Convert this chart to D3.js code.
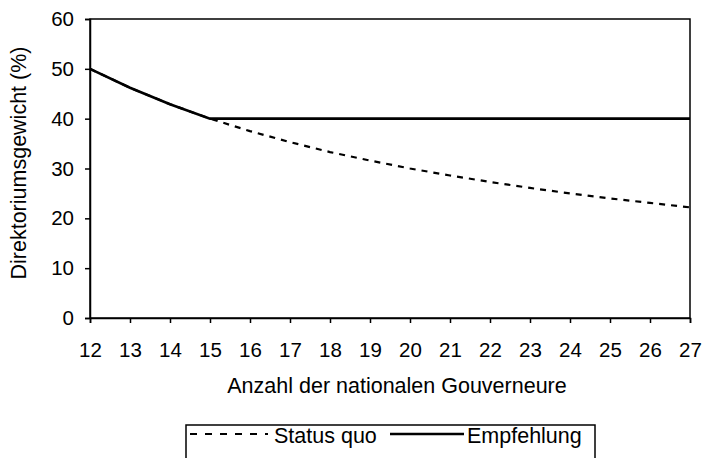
<!DOCTYPE html>
<html><head><meta charset="utf-8">
<script src="https://cdn.jsdelivr.net/npm/d3@7"></script>
<style>body{margin:0;background:#fff}svg{display:block}</style>
</head><body>
<svg id="c" width="702" height="458"></svg>
<script>
const governors = [12,13,14,15,16,17,18,19,20,21,22,23,24,25,26,27];
const statusQuo = [50,46.2,42.9,40,37.5,35.3,33.3,31.6,30,28.6,27.3,26.1,25,24,23.1,22.2];
const empfehlung = [50,46.2,42.9,40,40,40,40,40,40,40,40,40,40,40,40,40];
const yTicks = [0,10,20,30,40,50,60];
const seriesNames = ["Status quo","Empfehlung"];

const svg = d3.select("#c");
const font = "Arial, 'Liberation Sans', sans-serif";
const m = {l:90, r:691, t:19, b:318};
const x = d3.scaleLinear().domain([12,27]).range([m.l, m.r-1]);
const y = d3.scaleLinear().domain([0,60]).range([m.b, m.t]);

// frame
svg.append("rect").attr("x",m.l).attr("y",m.t).attr("width",m.r-1-m.l).attr("height",m.b-m.t)
  .attr("fill","none").attr("stroke","#000").attr("stroke-width",1.5);

const xa = svg.append("g").attr("transform",`translate(0,${m.b})`)
  .call(d3.axisBottom(x).tickValues(governors).tickFormat(d3.format("d")).tickSize(5).tickPadding(19));
const ya = svg.append("g").attr("transform",`translate(${m.l},0)`)
  .call(d3.axisLeft(y).tickValues(yTicks).tickSize(5).tickPadding(11));
[xa,ya].forEach(a=>{
  a.select(".domain").attr("stroke","#000").attr("stroke-width",1.5);
  a.selectAll(".tick line").attr("stroke","#000").attr("stroke-width",1.5);
  a.selectAll("text").attr("font-family",font).attr("font-size",20.5).attr("fill","#000");
});

const line = d3.line().x((d,i)=>x(governors[i])).y(d=>y(d));
svg.append("path").datum(statusQuo).attr("d",line).attr("fill","none")
  .attr("stroke","#000").attr("stroke-width",2.2).attr("stroke-dasharray","6,6");
svg.append("path").datum(empfehlung).attr("d",line).attr("fill","none")
  .attr("stroke","#000").attr("stroke-width",2.6);

svg.append("text").attr("transform","translate(26,163) rotate(-90)").attr("text-anchor","middle")
  .attr("font-family",font).attr("font-size",21.5).text("Direktoriumsgewicht (%)");
svg.append("text").attr("x",397).attr("y",393).attr("text-anchor","middle")
  .attr("font-family",font).attr("font-size",21.5).text("Anzahl der nationalen Gouverneure");

// legend
const lg = svg.append("g");
lg.append("rect").attr("x",186).attr("y",425).attr("width",409).attr("height",40)
  .attr("fill","none").attr("stroke","#000").attr("stroke-width",1.5);
lg.append("line").attr("x1",190).attr("x2",268).attr("y1",434).attr("y2",434)
  .attr("stroke","#000").attr("stroke-width",2.2).attr("stroke-dasharray","7,8");
lg.append("text").attr("x",274).attr("y",443).attr("font-family",font).attr("font-size",21.5).text(seriesNames[0]);
lg.append("line").attr("x1",390).attr("x2",464).attr("y1",434).attr("y2",434)
  .attr("stroke","#000").attr("stroke-width",2.6);
lg.append("text").attr("x",467).attr("y",443).attr("font-family",font).attr("font-size",21.5).text(seriesNames[1]);
</script>
</body></html>
